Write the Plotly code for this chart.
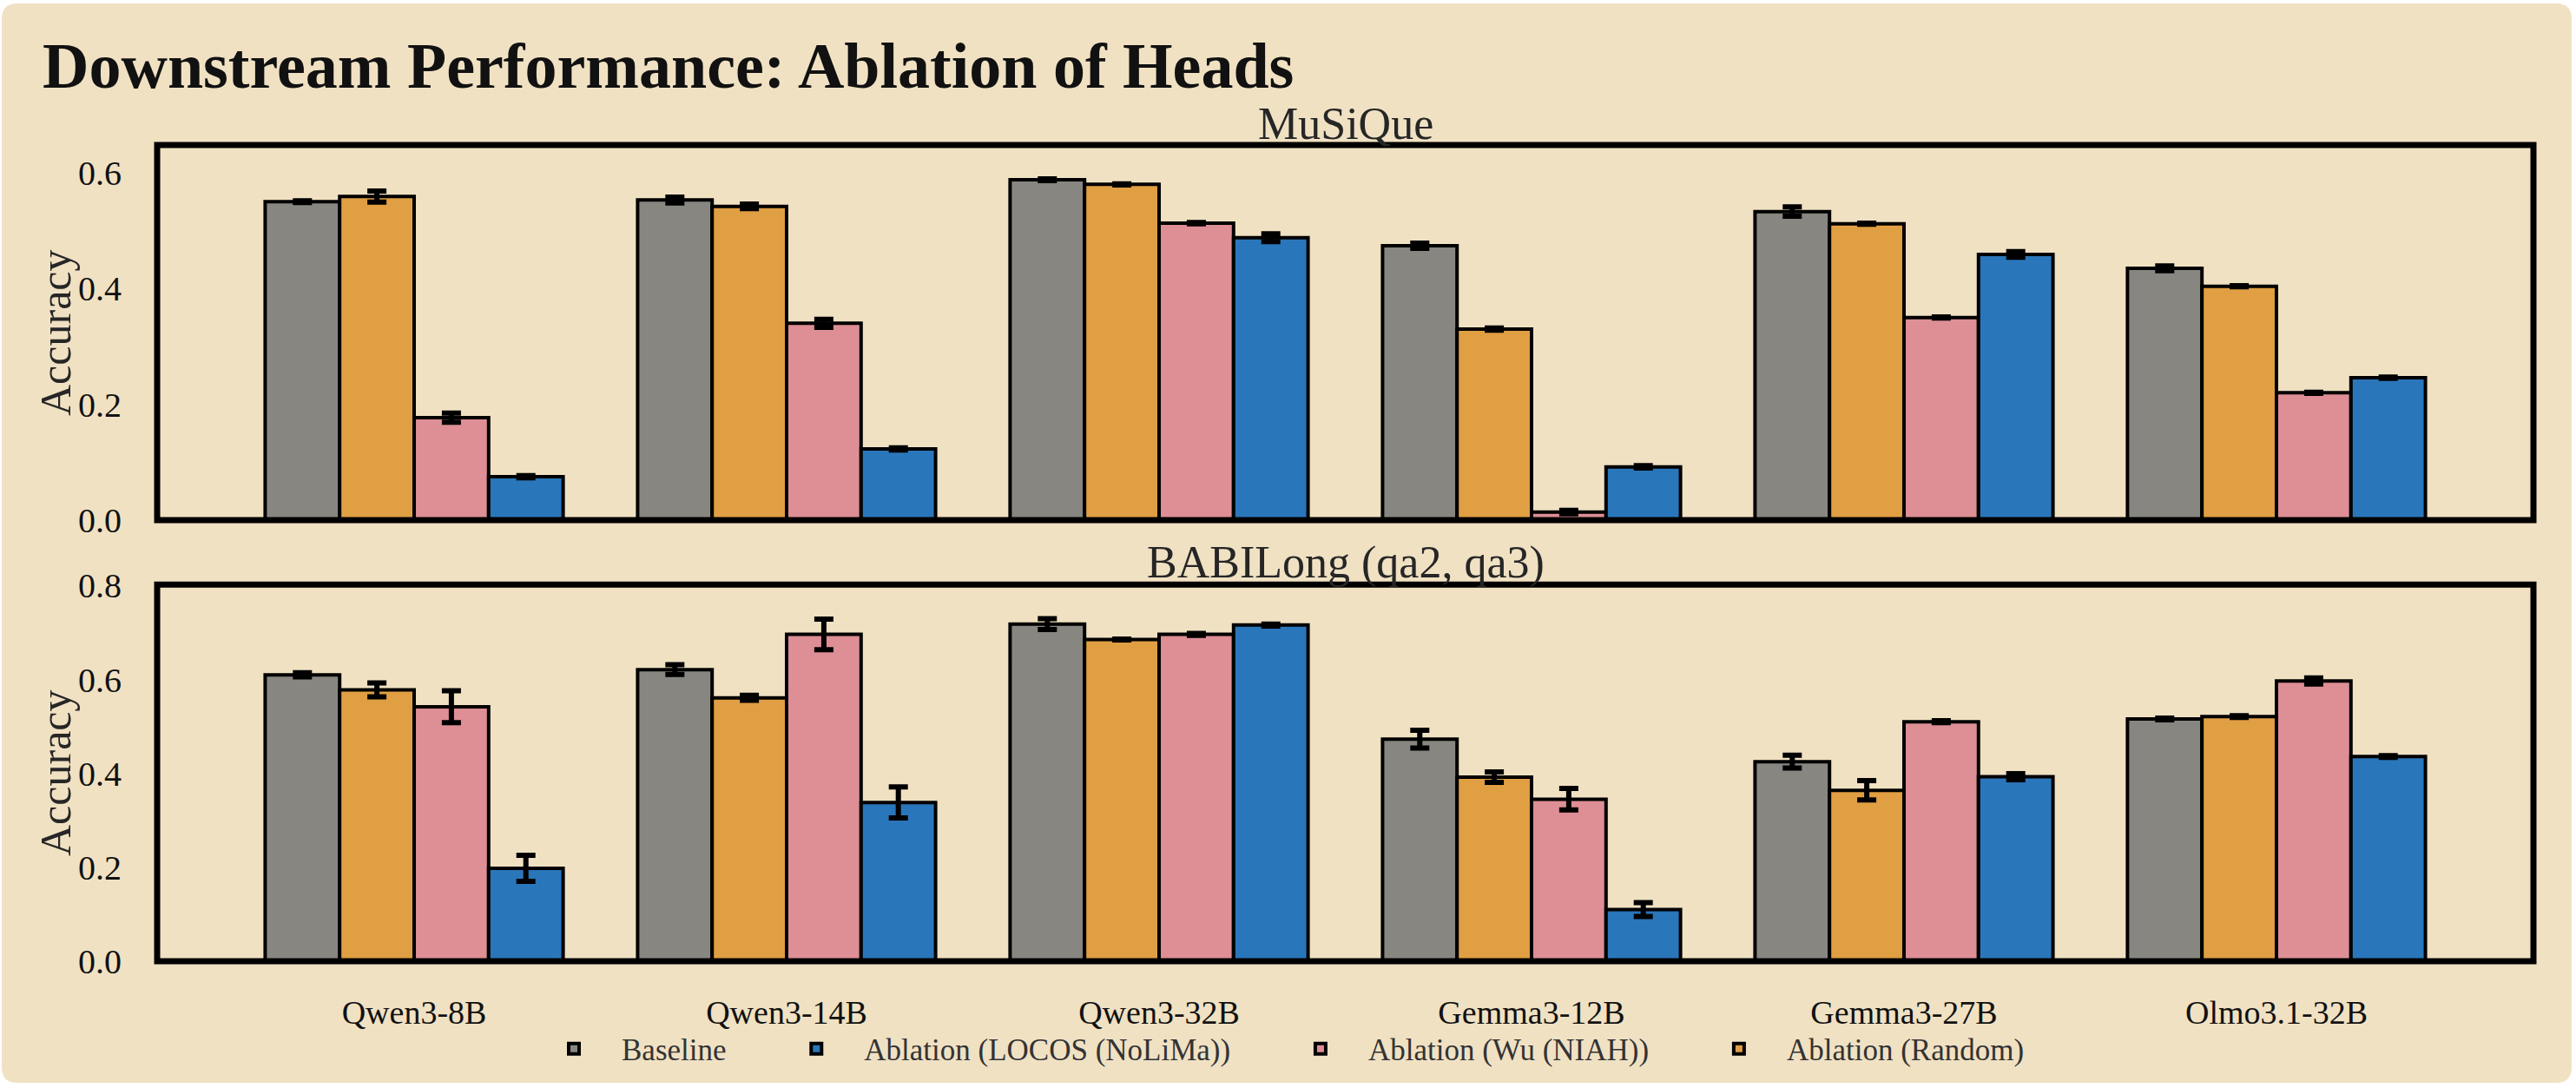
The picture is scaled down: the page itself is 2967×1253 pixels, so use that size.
import plotly.graph_objects as go
from plotly.subplots import make_subplots

# ---------------- data ----------------
models = ["Qwen3-8B", "Qwen3-14B", "Qwen3-32B", "Gemma3-12B", "Gemma3-27B", "Olmo3.1-32B"]
series_names = ["Baseline", "Ablation (Random)", "Ablation (Wu (NIAH))", "Ablation (LOCOS (NoLiMa))"]
legend_ranks = [1, 4, 3, 2]
panel_titles = ["MuSiQue", "BABILong (qa2, qa3)"]

musique_baseline = [0.550, 0.553, 0.588, 0.474, 0.533, 0.435]
musique_random = [0.559, 0.542, 0.580, 0.330, 0.512, 0.404]
musique_wu = [0.177, 0.340, 0.513, 0.014, 0.350, 0.220]
musique_locos = [0.075, 0.123, 0.488, 0.092, 0.459, 0.246]

musique_baseline_err = [0.0015, 0.005, 0.0015, 0.0045, 0.008, 0.004]
musique_random_err = [0.0095, 0.004, 0.001, 0.002, 0.001, 0.001]
musique_wu_err = [0.0078, 0.007, 0.001, 0.003, 0.001, 0.001]
musique_locos_err = [0.002, 0.002, 0.0068, 0.002, 0.005, 0.001]

babilong_baseline = [0.610, 0.621, 0.718, 0.473, 0.425, 0.516]
babilong_random = [0.578, 0.561, 0.685, 0.392, 0.364, 0.521]
babilong_wu = [0.542, 0.696, 0.696, 0.345, 0.510, 0.597]
babilong_locos = [0.198, 0.338, 0.716, 0.110, 0.393, 0.436]

babilong_baseline_err = [0.0043, 0.0105, 0.0114, 0.0188, 0.0135, 0.002]
babilong_random_err = [0.0148, 0.0055, 0.001, 0.011, 0.0206, 0.002]
babilong_wu_err = [0.034, 0.0326, 0.002, 0.0228, 0.002, 0.0065]
babilong_locos_err = [0.0277, 0.033, 0.002, 0.0148, 0.0065, 0.002]

y_ticks_top = [0.0, 0.2, 0.4, 0.6]
y_ticks_bottom = [0.0, 0.2, 0.4, 0.6, 0.8]

# ---------------- style ----------------
colors = ["#878681", "#E09F43", "#DE8E95", "#2A76BA"]
BEIGE = "#F0E1C3"
FONT = "Liberation Serif"
W, H = 2967, 1253
L, R, T, B = 181, 49, 167, 146
PW, PH = W - L - R, H - T - B
LEGEND_PAD = "\u00a0" * 5  # extra spacing after each legend entry


def pxx(x):
    return (x - L) / PW


def pxy(y):
    return (H - B - y) / PH


fig = make_subplots(rows=2, cols=1, shared_xaxes=True)

panels = [
    ([musique_baseline, musique_random, musique_wu, musique_locos],
     [musique_baseline_err, musique_random_err, musique_wu_err, musique_locos_err]),
    ([babilong_baseline, babilong_random, babilong_wu, babilong_locos],
     [babilong_baseline_err, babilong_random_err, babilong_wu_err, babilong_locos_err]),
]

for r, (vals, errs) in enumerate(panels, start=1):
    for i, name in enumerate(series_names):
        fig.add_trace(
            go.Bar(
                x=models, y=vals[i], name=name + LEGEND_PAD,
                marker=dict(color=colors[i], line=dict(color="black", width=4)),
                error_y=dict(type="data", array=errs[i], color="black", thickness=6, width=11),
                showlegend=(r == 1), legendgroup=name, legendrank=legend_ranks[i],
                hovertemplate=name + ": %{y:.3f}<extra></extra>",
            ),
            row=r, col=1,
        )

axis_common = dict(showgrid=False, zeroline=False, showline=False)
fig.update_layout(
    width=W, height=H,
    margin=dict(l=L, r=R, t=T, b=B),
    paper_bgcolor="white",
    plot_bgcolor="rgba(0,0,0,0)",
    barmode="group", bargap=0.2, bargroupgap=0,
    font=dict(family=FONT, color="#222222"),
    xaxis=dict(domain=[0, 1], range=[-0.69, 5.69], showticklabels=False, ticks="", **axis_common),
    xaxis2=dict(domain=[0, 1], range=[-0.69, 5.69], ticks="outside", ticklen=25,
                tickcolor="rgba(0,0,0,0)", tickfont=dict(size=38, color="#111111"), **axis_common),
    yaxis=dict(domain=[pxy(599), 1], range=[0, 0.648], tickvals=y_ticks_top, tickformat=".1f",
               ticks="outside", ticklen=32, tickcolor="rgba(0,0,0,0)",
               tickfont=dict(size=40, color="#111111"), **axis_common),
    yaxis2=dict(domain=[0, pxy(673.3)], range=[0, 0.802], tickvals=y_ticks_bottom, tickformat=".1f",
                ticks="outside", ticklen=32, tickcolor="rgba(0,0,0,0)",
                tickfont=dict(size=40, color="#111111"), **axis_common),
    legend=dict(orientation="h", x=pxx(1493), y=pxy(1208), xanchor="center", yanchor="middle",
                bgcolor="rgba(0,0,0,0)", font=dict(size=35, color="#333333"),
                itemwidth=100, traceorder="normal"),
)

# rounded figure background
x0, x1, y0, y1, rr = pxx(2), pxx(2962), pxy(4), pxy(1247), 18
rx, ry = rr / PW, rr / PH
path = (f"M{x0+rx},{y0} L{x1-rx},{y0} Q{x1},{y0} {x1},{y0-ry} "
        f"L{x1},{y1+ry} Q{x1},{y1} {x1-rx},{y1} L{x0+rx},{y1} Q{x0},{y1} {x0},{y1+ry} "
        f"L{x0},{y0-ry} Q{x0},{y0} {x0+rx},{y0} Z")
fig.add_shape(type="path", path=path, xref="paper", yref="paper",
              fillcolor=BEIGE, line=dict(width=0), layer="below")

# axes frames
for xr, yr in [("x domain", "y domain"), ("x2 domain", "y2 domain")]:
    fig.add_shape(type="rect", xref=xr, yref=yr, x0=0, x1=1, y0=0, y1=1,
                  line=dict(color="black", width=7), fillcolor="rgba(0,0,0,0)", layer="above")

# titles
fig.add_annotation(text="<b>Downstream Performance: Ablation of Heads</b>", xref="paper", yref="paper",
                   x=pxx(47), y=pxy(76), xanchor="left", yanchor="middle", showarrow=False,
                   font=dict(size=74, color="#111111", family=FONT))
for title, ycen in zip(panel_titles, [143, 648]):
    fig.add_annotation(text=title, xref="paper", yref="paper", x=0.5, y=pxy(ycen),
                       xanchor="center", yanchor="middle", showarrow=False,
                       font=dict(size=52, color="#262626", family=FONT))
for ycen in [383, 890]:
    fig.add_annotation(text="Accuracy", xref="paper", yref="paper", x=pxx(64), y=pxy(ycen),
                       xanchor="center", yanchor="middle", showarrow=False, textangle=-90,
                       font=dict(size=50, color="#262626", family=FONT))

fig.write_html("out.html")
